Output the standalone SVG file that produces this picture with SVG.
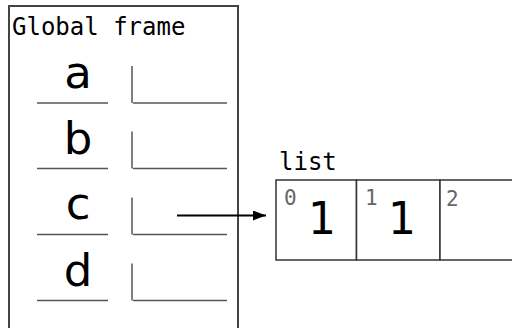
<svg xmlns="http://www.w3.org/2000/svg" width="512" height="328" viewBox="0 0 512 328">
<defs>
<marker id="ah" viewBox="0 0 13 10" refX="13" refY="5" markerWidth="13" markerHeight="10" markerUnits="userSpaceOnUse" orient="auto">
<path d="M0,0 L13,5 L0,10 Z" fill="#000"/>
</marker>
</defs>
<style>
.mono{font-family:"DejaVu Sans Mono",monospace;fill:#000}
.name{font-family:"DejaVu Sans",sans-serif;font-size:45px;text-anchor:middle;fill:#000}
.ul{stroke:#555;stroke-width:1.5;fill:none}
.idx{font-family:"DejaVu Sans Mono",monospace;font-size:21px;fill:#666}
.val{font-family:"DejaVu Sans",sans-serif;font-size:44px;text-anchor:middle;fill:#000}
.cell{stroke:#333;stroke-width:1.5;fill:#fff}
</style>
<rect width="512" height="328" fill="#fff"/>
<g id="frame">
<rect x="9" y="6" width="229" height="340" fill="none" stroke="#444" stroke-width="2"/>
<text class="mono" x="12" y="35" font-size="24">Global frame</text>
</g>
<g id="var-a">
<text class="name" x="78" y="88">a</text>
<path class="ul" d="M37,103 H108 M132,66 V103 M133,103 H227"/>
</g>
<g id="var-b">
<text class="name" x="78" y="153.5">b</text>
<path class="ul" d="M37,168.5 H108 M132,131.5 V168.5 M133,168.5 H227"/>
</g>
<g id="var-c">
<text class="name" x="78" y="219">c</text>
<path class="ul" d="M37,234.5 H108 M132,197.5 V234.5 M133,234.5 H227"/>
</g>
<g id="var-d">
<text class="name" x="78" y="285.5">d</text>
<path class="ul" d="M37,300.5 H108 M132,263.5 V300.5 M133,300.5 H227"/>
</g>
<g id="list">
<text class="mono" x="279" y="170" font-size="24">list</text>
<rect class="cell" x="276" y="180" width="80.5" height="80"/>
<rect class="cell" x="356.5" y="180" width="83.5" height="80"/>
<rect class="cell" x="440" y="180" width="84" height="80"/>
<text class="idx" x="284" y="205">0</text>
<text class="idx" x="365" y="205">1</text>
<text class="idx" x="446" y="206">2</text>
<text class="val" x="322" y="234">1</text>
<text class="val" x="402" y="234">1</text>
</g>
<g id="connectors">
<line x1="177" y1="215.5" x2="266" y2="215.5" stroke="#000" stroke-width="2" marker-end="url(#ah)"/>
</g>
</svg>
